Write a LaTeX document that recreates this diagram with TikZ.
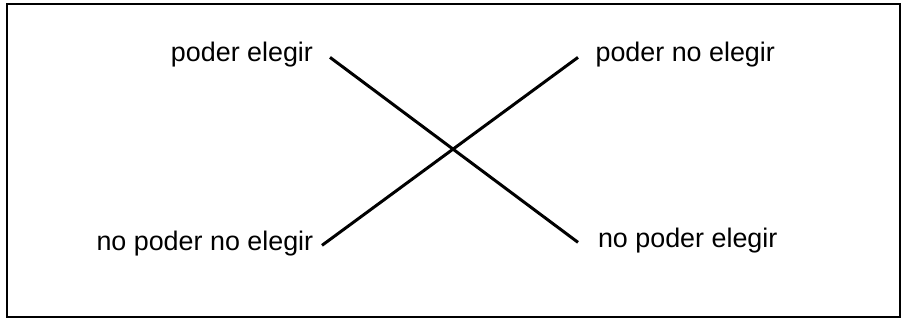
\documentclass[tikz,border=0pt]{standalone}
\usepackage{fontspec}
\setmainfont{Liberation Sans}
\usepackage{tikz}

\begin{document}
\begin{tikzpicture}[x=0.02cm,y=-0.02cm,line width=1.7pt]
\tikzset{lbl/.style={font=\fontsize{15.3}{18}\selectfont,inner sep=0pt,outer xsep=9.7pt}}
\useasboundingbox (0,0) rectangle (905,331);
\draw[line width=1.3pt] (7,4) rectangle (900,317);
\node[lbl,anchor=base east] (pe) at (330,62) {poder elegir};
\node[lbl,anchor=base west,outer xsep=10pt] (pne) at (578,62) {poder no elegir};
\node[lbl,anchor=base east,outer xsep=5pt] (npne) at (322,250) {no poder no elegir};
\node[lbl,anchor=base west,outer xsep=11.4pt] (npe) at (578,247) {no poder elegir};
\draw (pe.mid east)--(npe.mid west); \draw (npne.mid east)--(pne.mid west);
\end{tikzpicture}
\end{document}
